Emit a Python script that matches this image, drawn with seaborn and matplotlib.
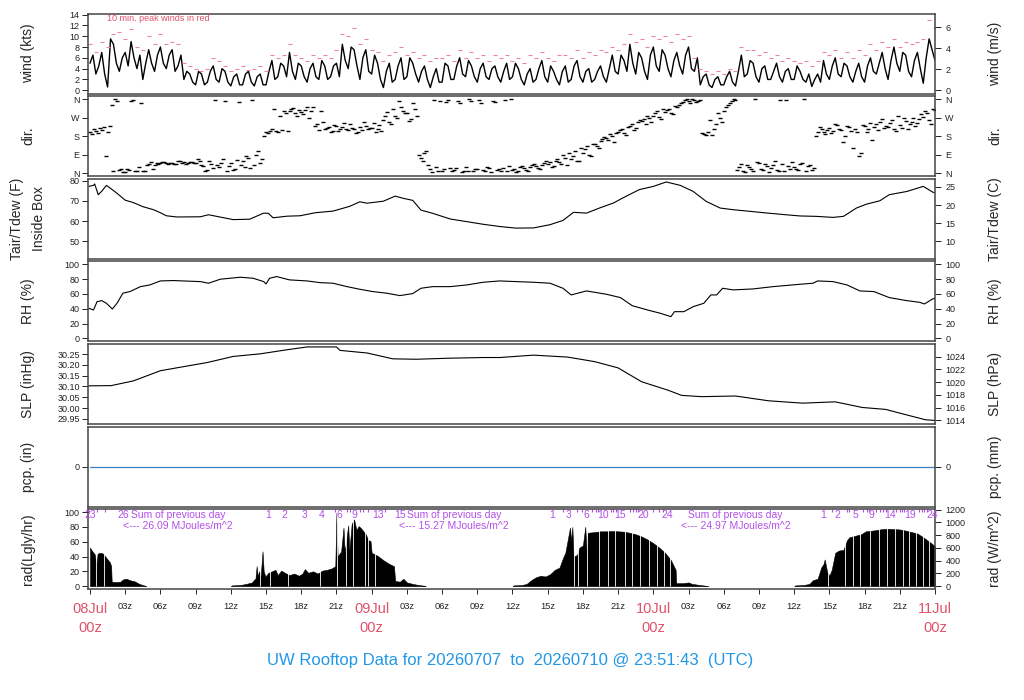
import numpy as np
import matplotlib
matplotlib.use("Agg")
import matplotlib.pyplot as plt
import seaborn as sns

sns.set_style("ticks")
plt.rcParams["font.family"] = ["Liberation Sans", "DejaVu Sans"]

PINK = "#DF536B"
GUST = "#EC8597"
PURPLE = "#B34FE8"
BLUE = "#2297E6"

# ---------------- data (hours since 08Jul 00z) ----------------
# wind speed (kts), on the half hour
wind_kts = [5.0, 3.0, 7.0, 0.6, 8.5, 3.5, 7.0, 9.0, 4.0, 2.0,
            7.5, 3.5, 8.0, 4.0, 7.5, 4.5, 2.0, 3.0, 1.0, 3.0,
            1.5, 4.5, 1.5, 3.5, 0.8, 3.0, 1.0, 3.5, 0.8, 3.0,
            1.0, 5.5, 2.5, 4.5, 7.0, 2.0, 4.5, 1.5, 5.0, 2.0,
            4.5, 2.5, 5.0, 8.5, 4.0, 7.5, 2.0, 7.5, 3.0, 5.0,
            0.5, 5.0, 2.0, 6.0, 2.5, 5.0, 1.5, 4.5, 0.5, 4.0,
            1.5, 4.5, 2.0, 6.0, 2.5, 4.5, 1.5, 5.0, 2.0, 4.5,
            1.5, 5.0, 2.5, 4.0, 1.0, 4.0, 2.0, 5.5, 1.5, 3.5,
            1.0, 4.5, 2.0, 5.5, 1.5, 4.0, 2.0, 4.5, 1.5, 6.5,
            3.0, 5.5, 8.5, 3.0, 6.0, 2.0, 8.0, 3.5, 6.5, 2.5,
            7.0, 3.0, 8.0, 3.5, 1.0, 3.0, 0.5, 2.5, 1.0, 3.5,
            0.8, 6.5, 3.0, 5.0, 1.5, 4.5, 2.0, 5.0, 1.5, 4.0,
            2.0, 3.5, 1.5, 0.7, 3.0, 5.5, 2.0, 6.0, 2.5, 4.5,
            1.5, 5.0, 1.5, 6.0, 3.0, 7.0, 2.0, 8.0, 3.5, 6.5,
            2.5, 7.0, 1.3, 9.5, 5.5]
# wind speed (kts), quarter past / quarter to
wind_kts_q = [6.5, 4.5, 3.0, 9.5, 5.0, 6.0, 4.5, 6.0, 6.5, 5.0,
              5.0, 6.5, 5.0, 6.5, 3.5, 6.5, 3.5, 1.5, 3.5, 1.0,
              3.5, 2.0, 4.0, 1.5, 2.5, 1.0, 3.0, 1.5, 2.5, 1.0,
              3.5, 2.0, 5.0, 2.5, 3.5, 5.0, 2.5, 4.0, 2.5, 5.5,
              2.0, 4.5, 2.5, 5.5, 8.0, 4.5, 6.0, 3.5, 6.5, 2.0,
              3.5, 1.5, 4.5, 2.0, 6.0, 3.0, 3.5, 2.0, 2.5, 1.5,
              5.0, 2.0, 4.5, 3.0, 5.5, 2.5, 4.0, 2.5, 4.0, 2.5,
              3.5, 2.0, 5.0, 2.0, 3.0, 1.5, 4.0, 2.5, 4.5, 2.0,
              3.5, 1.5, 4.5, 2.5, 3.5, 1.5, 3.5, 2.5, 4.0, 3.5,
              6.5, 3.5, 5.0, 7.0, 3.5, 6.5, 4.5, 7.5, 4.0, 5.5,
              4.5, 6.5, 4.0, 6.0, 2.5, 1.0, 2.0, 1.0, 2.5, 1.5,
              3.5, 2.5, 5.5, 2.5, 4.0, 2.0, 3.5, 2.5, 3.5, 2.0,
              4.5, 2.0, 3.0, 2.0, 1.5, 3.0, 4.5, 3.0, 5.0, 2.5,
              3.5, 2.5, 4.5, 3.5, 5.0, 4.0, 5.5, 5.0, 7.0, 3.5,
              5.5, 4.0, 6.0, 7.5]
# 10 min peak winds (kts), on the half hour
gust_kts = [8.5, 7.0, 9.0, 8.0, 10.5, 10.8, 9.5, 11.3, 8.0, 7.5,
            10.0, 8.5, 10.5, 8.5, 9.0, 8.5, 5.0, 4.5, 4.0, 3.5,
            4.0, 6.0, 5.5, 4.5, 3.5, 4.0, 4.5, 3.8, 4.0, 4.5,
            3.5, 6.5, 6.0, 6.5, 8.5, 6.5, 6.0, 5.5, 6.5, 6.0,
            6.5, 6.0, 7.5, 10.5, 10.0, 11.5, 8.5, 9.5, 7.5, 7.0,
            5.5, 6.5, 7.0, 8.0, 6.5, 7.0, 6.0, 6.5, 5.5, 6.0,
            6.0, 6.5, 5.5, 7.5, 6.0, 7.0, 6.0, 6.5, 5.5, 6.5,
            6.0, 6.5, 5.5, 6.0, 5.0, 6.5, 6.0, 7.0, 6.0, 5.5,
            6.5, 6.5, 6.0, 7.5, 6.0, 7.0, 6.5, 7.5, 7.0, 8.0,
            7.5, 8.5, 10.5, 9.0, 9.5, 8.0, 10.0, 9.5, 10.0, 9.0,
            10.5, 9.5, 10.0, 6.0, 4.0, 3.5, 3.0, 3.5, 3.0, 4.0,
            3.5, 8.0, 7.5, 7.5, 6.5, 7.0, 6.0, 6.5, 5.5, 6.0,
            5.5, 5.0, 5.5, 4.5, 5.5, 7.0, 6.5, 7.5, 6.0, 7.0,
            6.0, 7.5, 6.5, 8.5, 7.5, 9.0, 8.0, 9.5, 8.0, 9.0,
            8.5, 9.0, 9.5, 13.0, 11.5]
wind_hours = np.arange(len(wind_kts)) * 0.5
wind_hours_q = np.arange(len(wind_kts_q)) * 0.5 + 0.25

# wind direction (deg), three readings per hour on :00 :20 :40
dir_deg = [200, 215, 195, 210, 85, 230,
           10, 350, 20, 5, 15, 355,
           12, 340, 8, 45, 20, 50,
           48, 55, 42, 50, 45, 60,
           52, 47, 55, 48, 60, 35,
           15, 45, 355, 30, 70, 10,
           50, 20, 345, 60, 85, 25,
           40, 110, 70, 200, 205, 310,
           198, 210, 290, 300, 315, 280,
           295, 305, 270, 320, 240, 300,
           215, 225, 205, 230, 215, 245,
           210, 220, 195, 225, 250, 215,
           220, 200, 235, 260, 295, 240,
           280, 350, 300, 290, 265, 310,
           90, 60, 110, 20, 355, 10,
           8, 345, 25, 15, 350, 5,
           30, 358, 12, 20, 340, 8,
           25, 350, 15, 10, 355, 35,
           15, 5, 30, 25, 10, 40,
           35, 20, 50, 45, 30, 60,
           55, 90, 40, 70, 110, 60,
           100, 130, 85, 140, 120, 165,
           170, 190, 150, 200, 215, 185,
           230, 210, 250, 255, 240, 270,
           280, 300, 265, 295, 310, 285,
           320, 340, 355, 350, 358, 345,
           355, 190, 200, 185, 240, 270,
           300, 330, 350, 355, 30, 10,
           40, 20, 358, 50, 15, 35,
           25, 60, 10, 45, 355, 20,
           30, 15, 50, 10, 40, 25,
           200, 215, 190, 220, 205, 235,
           210, 180, 225, 120, 200, 100,
           230, 215, 160, 240, 250, 220,
           225, 260, 205, 235, 270, 215,
           250, 230, 265, 275, 290, 240,
           305]
# wind direction (deg), readings on :10 :30 :50
dir_deg_b = [190, 205, 220, 225, 200, 330,
             358, 15, 5, 20, 350, 10,
             30, 8, 40, 55, 40, 45,
             52, 47, 50, 46, 58, 50,
             44, 55, 50, 70, 40, 10,
             60, 25, 40, 50, 350, 35,
             15, 65, 40, 30, 75, 355,
             90, 50, 180, 195, 215, 205,
             280, 300, 205, 310, 290, 305,
             285, 320, 300, 230, 210, 250,
             220, 200, 235, 205, 225, 215,
             240, 215, 200, 210, 230, 220,
             245, 215, 205, 280, 250, 310,
             270, 320, 290, 255, 340, 280,
             75, 100, 40, 5, 30, 350,
             20, 355, 10, 25, 340, 12,
             8, 350, 20, 355, 15, 30,
             5, 345, 20, 25, 12, 358,
             20, 10, 35, 15, 30, 45,
             25, 40, 60, 55, 35, 70,
             45, 75, 100, 85, 60, 120,
             115, 90, 140, 130, 155, 175,
             160, 180, 195, 210, 195, 225,
             240, 220, 260, 265, 280, 250,
             290, 275, 310, 305, 290, 325,
             330, 345, 360, 340, 355, 350,
             195, 185, 260, 215, 290, 250,
             320, 340, 358, 15, 45, 5,
             30, 10, 55, 20, 45, 5,
             40, 15, 355, 10, 35, 55,
             20, 45, 358, 35, 15, 180,
             225, 200, 210, 195, 240, 215,
             150, 230, 205, 215, 85, 235,
             200, 245, 225, 210, 265, 230,
             245, 215, 280, 220, 255, 240,
             270, 245, 285, 300, 260, 310]
dir_hours = np.arange(len(dir_deg)) / 3.0
dir_hours_b = np.arange(len(dir_deg_b)) / 3.0 + 1 / 6

# inside-box air temperature (F)
temp_hours = [-0.1, 0.3, 0.4, 0.7, 1.0, 1.4, 1.85, 2.3, 3.0, 3.7, 4.5, 5.4,
              6.0, 6.5, 7.4, 9.4, 10.1, 12.2, 13.6, 14.8, 15.2, 15.6, 16.8,
              17.9, 19.2, 20.7, 22.1, 23.0, 23.6, 25.0, 26.0, 26.7, 27.5,
              28.2, 29.2, 30.7, 32.1, 33.5, 34.9, 36.3, 37.8, 39.2, 40.3,
              41.2, 42.3, 43.4, 44.6, 45.4, 46.8, 48.0, 49.1, 50.3, 51.4,
              52.5, 53.7, 54.8, 56.2, 57.6, 59.1, 60.5, 61.9, 63.3, 64.2,
              65.3, 66.2, 67.3, 68.1, 69.6, 71.0, 71.8, 72.0]
temp_f = [77.2, 77.7, 78.4, 73.1, 74.8, 77.7, 75.8, 73.8, 70.4, 69.2, 67.2, 65.7,
          64.2, 62.7, 62.1, 62.2, 63.2, 60.8, 61.0, 64.0, 63.9, 61.7, 62.5,
          62.7, 64.2, 65.0, 67.3, 69.6, 68.9, 69.9, 72.4, 71.3, 70.3,
          65.5, 63.9, 61.1, 59.8, 58.5, 57.4, 56.6, 56.7, 58.3, 60.4,
          64.4, 64.0, 66.5, 69.0, 71.5, 75.6, 77.2, 79.4, 77.7, 74.7,
          69.8, 66.5, 65.7, 64.9, 64.1, 63.3, 62.6, 62.4, 61.9, 62.4,
          66.5, 68.5, 70.1, 73.1, 74.7, 77.2, 74.4, 74.0]

# relative humidity (%)
rh_hours = [-0.1, 0.3, 0.6, 1.0, 1.4, 1.7, 1.9, 2.3, 2.8, 3.4, 4.3, 5.1,
            6.0, 7.1, 9.4, 10.1, 11.1, 12.8, 13.9, 14.8, 15.0, 15.3, 15.9,
            17.0, 18.5, 19.6, 20.7, 21.9, 23.0, 24.1, 25.3, 26.4, 27.5,
            28.2, 29.2, 30.7, 32.1, 33.5, 34.9, 36.3, 37.8, 39.2, 40.3,
            41.0, 42.3, 44.0, 45.2, 46.2, 47.5, 48.6, 49.5, 49.8, 50.6,
            51.4, 52.3, 52.9, 53.4, 53.9, 54.8, 56.5, 58.2, 60.5, 61.6,
            62.0, 63.3, 64.5, 65.6, 66.8, 68.1, 69.6, 70.7, 71.1, 71.8, 72.0]
rh_pct = [40.5, 38.3, 49.5, 50.9, 47.3, 42.8, 39.6, 47.3, 60.9, 63.1, 69.8, 72.1,
          77.5, 78.0, 76.6, 74.4, 79.8, 82.5, 81.1, 76.6, 73.4, 81.1, 83.4,
          78.9, 77.5, 75.2, 74.4, 69.8, 66.2, 63.1, 60.9, 57.7, 60.4,
          67.6, 69.8, 69.8, 72.1, 75.7, 77.5, 76.6, 75.7, 74.4, 67.6,
          58.6, 64.0, 59.5, 55.0, 44.1, 38.3, 33.8, 29.3, 36.0, 36.0,
          42.8, 47.3, 58.6, 58.6, 67.6, 65.4, 66.7, 69.8, 73.0, 74.4,
          77.5, 76.6, 72.1, 64.0, 63.1, 55.0, 50.9, 48.6, 46.4, 53.2, 54.0]

# sea level pressure (inHg)
slp_hours = [-0.1, 1.8, 3.7, 6.0, 8.0, 10.0, 12.2, 14.5, 16.8, 18.5, 21.0, 21.3,
             23.6, 25.8, 27.8, 30.7, 33.5, 34.9, 37.8, 40.7, 43.0, 45.0, 47.0,
             49.3, 50.4, 52.1, 55.0, 57.8, 60.7, 63.5, 65.8, 67.8, 69.2, 71.2, 72.0]
slp_inhg = [30.103, 30.104, 30.126, 30.173, 30.192, 30.211, 30.239, 30.251, 30.270,
            30.283, 30.283, 30.267, 30.255, 30.228, 30.226, 30.231, 30.234, 30.234,
            30.245, 30.236, 30.215, 30.186, 30.122, 30.082, 30.059, 30.053, 30.056,
            30.034, 30.023, 30.029, 30.003, 29.994, 29.974, 29.946, 29.943]

# precipitation (in), hourly
pcp_in = [0.0] * 73
pcp_hours = np.arange(len(pcp_in))

# solar radiation (Lgly/hr), one list per daylight period
rad_hours_d0 = [0.0, 0.2, 0.4, 0.55, 0.65, 0.9, 1.1, 1.3, 1.5, 1.7, 1.8, 1.85,
                2.2, 2.6, 2.8, 3.1, 3.4, 3.8, 4.2, 4.6, 4.8]
rad_vals_d0 = [52, 47, 43, 30, 44, 45, 44, 40, 36, 32, 27, 6,
               5.5, 6, 9, 10, 8, 6.5, 3, 1, 0]
rad_hours_d1 = [12.0, 12.1, 12.8, 13.3, 13.8, 14.0, 14.1, 14.2, 14.3, 14.4, 14.55, 14.7,
                14.8, 14.95, 15.2, 15.5, 15.8, 16.0, 16.3, 16.6, 17.0, 17.4, 17.8, 18.1,
                18.3, 18.6, 19.0, 19.4, 19.8, 20.2, 20.6, 20.9, 21.0, 21.1, 21.4, 21.6,
                21.7, 22.0, 22.1, 22.3, 22.5, 22.7, 22.9, 23.1, 23.3, 23.5, 23.7, 23.9,
                24.0, 24.5, 25.0, 25.5, 25.9, 26.0, 26.4, 26.7, 27.0, 27.5, 28.0, 28.5, 28.6]
rad_vals_d1 = [0, 1, 1.5, 3, 5, 9, 10, 27, 12, 20, 14, 47,
               20, 13, 18, 20, 22, 15, 21, 18, 15, 17, 14, 17,
               23, 18, 20, 17, 21, 22, 24, 27, 99, 40, 47, 79,
               45, 82, 48, 84, 90, 76, 81, 78, 74, 70, 62, 61,
               45, 41, 35, 30, 27, 7, 6, 10, 5, 3, 1.5, 0.5, 0]
rad_hours_d2 = [36.0, 36.1, 36.8, 37.2, 37.6, 38.0, 38.4, 38.8, 39.2, 39.6, 40.0, 40.3,
                40.5, 40.7, 40.9, 41.0, 41.1, 41.2, 41.5, 41.7, 42.0, 42.2, 42.3, 42.4,
                43.0, 43.5, 44.0, 44.5, 45.0, 45.5, 46.0, 46.5, 47.0, 47.5, 48.0, 48.5,
                49.0, 49.5, 49.9, 49.95, 50.5, 51.0, 51.3, 52.0, 52.7]
rad_vals_d2 = [0, 1, 1.5, 3, 8, 12, 14, 13, 16, 22, 25, 38,
               45, 62, 79, 60, 80, 40, 42, 52, 55, 80, 50, 72,
               73, 74, 74, 74.5, 74, 73.5, 72, 70, 67, 63, 58, 52,
               45, 35, 22, 4, 4, 5, 3, 1.5, 0]
rad_hours_d3 = [60.0, 60.1, 60.8, 61.3, 61.6, 62.0, 62.3, 62.5, 62.6, 62.8, 63.0, 63.2,
                63.5, 63.8, 64.2, 64.5, 64.7, 65.2, 65.7, 66.1, 66.7, 67.5, 68.0, 68.5,
                69.0, 69.5, 70.0, 70.5, 71.0, 71.5, 72.0]
rad_vals_d3 = [0, 1, 1.5, 3, 8, 10, 25, 30, 36, 20, 14, 22,
               45, 48, 49, 62, 66, 68, 70, 74, 75, 77, 77.5, 77,
               76.5, 75, 73, 71, 66, 60, 54]
# missing radiation samples (show as thin white gaps)
rad_gap_hours = [0.5, 1.2, 14.45, 15.3, 16.9, 19.6, 21.05, 21.8, 22.4, 23.4,
                 23.65, 24.3, 41.25, 41.6, 42.35, 43.4, 44.1, 44.75, 45.6,
                 46.2, 46.9, 47.6, 48.3, 48.9, 49.4, 62.9, 64.3, 65.0, 65.6,
                 66.5, 67.2, 67.9, 68.6, 69.3, 69.8, 70.4, 71.0, 71.5]

# cumulative MJ/m^2 markers along the top of the radiation panel
rad_label_hours = [0.0, 2.8, 15.2, 16.6, 18.3, 19.7, 21.25, 22.5, 24.5, 26.4,
                   39.4, 40.8, 42.3, 43.7, 45.2, 47.1, 49.2,
                   62.5, 63.7, 65.2, 66.6, 68.2, 69.9, 71.8]
rad_label_text = ["23", "26", "1", "2", "3", "4", "6", "9", "13", "15",
                  "1", "3", "6", "10", "15", "20", "24",
                  "1", "2", "5", "9", "14", "19", "24"]
rad_tick_hours = [0.6, 1.3, 20.9, 21.9, 22.15, 23.0, 23.3, 23.7, 25.1,
                  40.3, 41.5, 41.9, 42.8, 43.1, 43.3, 44.4, 44.6, 44.85,
                  46.0, 46.3, 46.5, 46.7, 48.0, 48.5, 48.8,
                  63.2, 64.5, 64.7, 65.9, 66.2, 66.35, 67.0, 67.3, 67.6, 67.8,
                  68.7, 69.0, 69.2, 69.4, 70.6, 70.9, 71.1, 71.3]
sum_hours = [7.5, 31.0, 55.0]
sum_mj = [26.09, 15.27, 24.97]

date_labels = ["08Jul", "09Jul", "10Jul", "11Jul"]
title = "UW Rooftop Data for 20260707  to  20260710 @ 23:51:43  (UTC)"

left_labels = ["wind (kts)", "dir.", "Tair/Tdew (F)\nInside Box", "RH (%)",
               "SLP (inHg)", "pcp. (in)", "rad(Lgly/hr)"]
right_labels = ["wind (m/s)", "dir.", "Tair/Tdew (C)", "RH (%)",
                "SLP (hPa)", "pcp. (mm)", "rad (W/m^2)"]

# ---------------- layout ----------------
W, H = 1024, 700
XL, XR = 88, 935
fig = plt.figure(figsize=(W / 100, H / 100), dpi=100)

axes = []
for i in range(7):
    top = 13.5 + i * 82.6
    ax = fig.add_axes([XL / W, 1 - (top + 80) / H, (XR - XL) / W, 80 / H])
    ax.set_xlim(-0.17, 72.0)
    for s in ax.spines.values():
        s.set_color("#444444")
        s.set_linewidth(1.1)
    ax.tick_params(axis="y", direction="out", length=4.5, width=0.7,
                   labelsize=6.5, pad=1.5, left=True, colors="#222222")
    ax.set_xticks([])
    ymid = 1 - (top + 40) / H
    fig.text(28 / W, ymid, left_labels[i], rotation=90, ha="center",
             va="center", fontsize=10, linespacing=1.8)
    fig.text(995 / W, ymid, right_labels[i], rotation=90, ha="center",
             va="center", fontsize=10)
    axes.append(ax)


def right_axis(ax, fwd, inv, ticks, labels=None):
    sec = ax.secondary_yaxis("right", functions=(fwd, inv))
    sec.set_yticks(ticks)
    if labels is not None:
        sec.set_yticklabels(labels)
    sec.tick_params(direction="out", length=4.5, width=0.7, labelsize=6.5,
                    pad=3, colors="#222222")
    sec.spines["right"].set_visible(False)
    return sec


ident = (lambda v: v, lambda v: v)

# wind
ax = axes[0]
wind_all_h = np.concatenate([wind_hours, wind_hours_q])
wind_all_v = np.concatenate([wind_kts, wind_kts_q])
order = np.argsort(wind_all_h)
sns.lineplot(x=wind_all_h[order], y=wind_all_v[order], ax=ax, color="black",
             linewidth=1.0)
ax.plot(wind_hours, gust_kts, linestyle="none", marker="_", markersize=3.2,
        markeredgewidth=0.8, color=GUST)
ax.set_ylim(-0.6, 14.2)
ax.set_yticks(range(0, 15, 2))
ax.text(1.45, 13.2, "10 min. peak winds in red", color=PINK, fontsize=6.5,
        ha="left", va="center")
right_axis(ax, lambda v: v * 0.514444, lambda v: v / 0.514444, [0, 2, 4, 6])

# direction
ax = axes[1]
for hrs, vals in [(dir_hours, dir_deg), (dir_hours_b, dir_deg_b)]:
    ax.plot(hrs, vals, linestyle="none", marker="_", markersize=3.4,
            markeredgewidth=1.0, color="black")
ax.set_ylim(-14.4, 374.4)
ax.set_yticks([0, 90, 180, 270, 360])
ax.set_yticklabels(["N", "E", "S", "W", "N"])
right_axis(ax, *ident, [0, 90, 180, 270, 360], ["N", "E", "S", "W", "N"])

# temperature
ax = axes[2]
sns.lineplot(x=temp_hours, y=temp_f, ax=ax, color="black", linewidth=0.8)
ax.set_ylim(41.5, 81.0)
ax.set_yticks([50, 60, 70, 80])
right_axis(ax, lambda v: (v - 32) * 5 / 9, lambda v: v * 9 / 5 + 32,
           [10, 15, 20, 25])

# relative humidity
ax = axes[3]
sns.lineplot(x=rh_hours, y=rh_pct, ax=ax, color="black", linewidth=0.8)
ax.set_ylim(-4, 104)
ax.set_yticks(range(0, 101, 20))
right_axis(ax, *ident, list(range(0, 101, 20)))

# pressure
ax = axes[4]
sns.lineplot(x=slp_hours, y=slp_inhg, ax=ax, color="black", linewidth=0.8)
ax.set_ylim(29.927, 30.297)
slp_ticks = [29.95, 30.00, 30.05, 30.10, 30.15, 30.20, 30.25]
ax.set_yticks(slp_ticks)
ax.set_yticklabels([f"{v:.2f}" for v in slp_ticks])
hpa_ticks = [1014, 1016, 1018, 1020, 1022, 1024]
right_axis(ax, lambda v: v / 0.02953, lambda v: v * 0.02953, hpa_ticks,
           [str(v) for v in hpa_ticks])

# precipitation
ax = axes[5]
sns.lineplot(x=pcp_hours, y=pcp_in, ax=ax, color="#3C7FC8", linewidth=0.9)
ax.set_ylim(-1, 1)
ax.set_yticks([0])
right_axis(ax, lambda v: v * 25.4, lambda v: v / 25.4, [0])

# radiation
ax = axes[6]
for hrs, vals in [(rad_hours_d0, rad_vals_d0), (rad_hours_d1, rad_vals_d1),
                  (rad_hours_d2, rad_vals_d2), (rad_hours_d3, rad_vals_d3)]:
    ax.fill_between(hrs, 0, vals, color="black", linewidth=0.4)
ax.vlines(rad_gap_hours, 0.8, 100, color="white", linewidth=0.6)
ax.set_ylim(-4, 104)
ax.set_yticks(range(0, 101, 20))
ax.vlines(rad_tick_hours, 100.0, 104, color=PURPLE, linewidth=0.8)
for h, t in zip(rad_label_hours, rad_label_text):
    ax.text(h, 96.5, t, color=PURPLE, fontsize=7.5, ha="center", va="center")
for h, v in zip(sum_hours, sum_mj):
    ax.text(h, 96.5, "Sum of previous day", color=PURPLE, fontsize=7.5,
            ha="center", va="center")
    ax.text(h, 81.0, f"<--- {v:.2f} MJoules/m^2", color=PURPLE, fontsize=7.5,
            ha="center", va="center")
right_axis(ax, lambda v: v * 11.63, lambda v: v / 11.63,
           list(range(0, 1201, 200)))

xt = list(range(0, 73, 3))
ax.set_xticks(xt)
ax.set_xticklabels([])
ax.tick_params(axis="x", direction="out", length=3.5, width=0.7, bottom=True)
for h in xt:
    if h % 24:
        ax.annotate(f"{h % 24:02d}z", xy=(h, 0), xycoords=("data", "axes fraction"),
                    xytext=(0, -12.5), textcoords="offset points", ha="center",
                    va="center", fontsize=6.7, color="#222222")
    else:
        ax.annotate(date_labels[h // 24], xy=(h, 0),
                    xycoords=("data", "axes fraction"), xytext=(0, -14),
                    textcoords="offset points", ha="center", va="center",
                    fontsize=10.5, color=PINK)
        ax.annotate("00z", xy=(h, 0), xycoords=("data", "axes fraction"),
                    xytext=(0, -28), textcoords="offset points", ha="center",
                    va="center", fontsize=10.5, color=PINK)

fig.text(510 / W, 1 - 660 / H, title, ha="center", va="center", fontsize=12,
         color=BLUE)

fig.savefig("out.png", dpi=100)
